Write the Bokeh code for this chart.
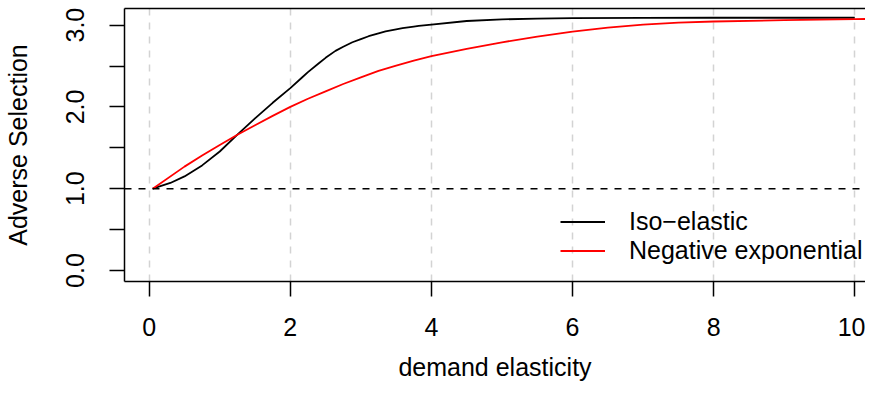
from bokeh.plotting import figure
from bokeh.models import Range1d, FixedTicker, LinearAxis, Span, Legend, LegendItem
from bokeh.embed import file_html
from bokeh.resources import INLINE

# ---- data ----
iso_x = [0.05, 0.3, 0.5, 0.75, 1.0, 1.25, 1.5, 1.75, 2.0, 2.17, 2.25, 2.4, 2.5, 2.64,
         2.75, 2.88, 3.0, 3.11, 3.25, 3.35, 3.5, 3.59, 3.75, 3.82, 4.0, 4.5, 5.0,
         5.5, 6.0, 7.0, 8.0, 9.0, 10.0]
iso_y = [1.00, 1.07, 1.15, 1.285, 1.455, 1.66, 1.86, 2.05, 2.23, 2.363, 2.425, 2.53, 2.60, 2.685,
         2.736, 2.79, 2.829, 2.864, 2.898, 2.922, 2.948, 2.962, 2.982, 2.99, 3.007, 3.05, 3.07,
         3.08, 3.085, 3.088, 3.09, 3.09, 3.09]

negexp_x = [0.05, 0.5, 0.75, 1.0, 1.25, 1.5, 1.75, 2.0, 2.25, 2.5, 2.75, 3.0, 3.25,
            3.5, 3.75, 4.0, 4.5, 5.0, 5.5, 6.0, 6.5, 7.0, 7.5, 8.0, 9.0, 10.0, 10.4]
negexp_y = [1.00, 1.27, 1.405, 1.535, 1.66, 1.775, 1.89, 2.00, 2.10, 2.19, 2.28, 2.36, 2.44,
            2.505, 2.565, 2.62, 2.71, 2.79, 2.86, 2.92, 2.97, 3.005, 3.03, 3.044, 3.06, 3.073, 3.077]

x_ticks = [0, 2, 4, 6, 8, 10]
y_ticks = [0, 1, 2, 3]
y_minor_ticks = [0.5, 1.5, 2.5]
y_tick_labels = {0: "0.0", 1: "1.0", 2: "2.0", 3: "3.0"}
reference_level = 1.0
series_labels = ["Iso\u2212elastic", "Negative exponential"]

FONT = "Liberation Sans"
FS = "25px"

p = figure(width=865, height=384, output_backend="svg", toolbar_location=None,
           x_range=Range1d(-0.350, 10.152), y_range=Range1d(-0.1345, 3.203),
           min_border_left=124, min_border_top=8, min_border_right=0, min_border_bottom=103,
           x_axis_label="demand elasticity", y_axis_label="Adverse Selection")
p.outline_line_color = None
p.background_fill_color = "white"
p.border_fill_color = "white"

# grid: vertical dashed light-gray lines only
p.xgrid.ticker = FixedTicker(ticks=x_ticks)
p.xgrid.grid_line_color = "#D3D3D3"
p.xgrid.grid_line_dash = "7 7"
p.xgrid.grid_line_width = 1.5
p.ygrid.visible = False

# x axis
xa = p.xaxis[0]
xa.ticker = FixedTicker(ticks=x_ticks)
xa.axis_line_color = "black"
xa.axis_line_width = 1.5
xa.major_tick_out = 15
xa.major_tick_in = 0
xa.major_tick_line_width = 1.5
xa.minor_tick_out = 0
xa.minor_tick_in = 0
xa.major_label_standoff = 21
xa.major_label_text_font = FONT
xa.major_label_text_font_size = FS
xa.major_label_text_color = "black"
xa.axis_label_text_font = FONT
xa.axis_label_text_font_size = FS
xa.axis_label_text_font_style = "normal"
xa.axis_label_text_color = "black"
xa.axis_label_standoff = 14

# y axis
ya = p.yaxis[0]
ya.ticker = FixedTicker(ticks=y_ticks, minor_ticks=y_minor_ticks)
ya.major_label_overrides = y_tick_labels
ya.major_label_orientation = "vertical"
ya.axis_line_color = "black"
ya.axis_line_width = 1.5
ya.major_tick_out = 15
ya.major_tick_in = 0
ya.major_tick_line_width = 1.5
ya.minor_tick_out = 15
ya.minor_tick_in = 0
ya.minor_tick_line_width = 1.5
ya.minor_tick_line_color = "black"
ya.major_label_standoff = 25
ya.major_label_text_font = FONT
ya.major_label_text_font_size = FS
ya.major_label_text_color = "black"
ya.axis_label_text_font = FONT
ya.axis_label_text_font_size = FS
ya.axis_label_text_font_style = "normal"
ya.axis_label_text_color = "black"
ya.axis_label_standoff = 32

# top border of the box
top = LinearAxis(ticker=FixedTicker(ticks=[]), major_tick_out=0, major_tick_in=0,
                 minor_tick_out=0, minor_tick_in=0, major_label_text_font_size="0px",
                 axis_line_color="black", axis_line_width=1.5)
p.add_layout(top, "above")

# reference line at 1.0
p.add_layout(Span(location=reference_level, dimension="width", line_color="black",
                  line_dash="7 7", line_width=1.5))

r1 = p.line(iso_x, iso_y, line_color="black", line_width=1.8)
r2 = p.line(negexp_x, negexp_y, line_color="red", line_width=1.8)

legend = Legend(items=[LegendItem(label=series_labels[0], renderers=[r1]),
                       LegendItem(label=series_labels[1], renderers=[r2])],
                location=(436, 16), border_line_color=None, background_fill_alpha=0,
                padding=0, margin=0, spacing=0, glyph_width=45, glyph_height=29,
                label_height=29, label_standoff=24,
                label_text_font=FONT, label_text_font_size=FS, label_text_color="black")
p.add_layout(legend)

open("out.html", "w").write(file_html(p, INLINE))
